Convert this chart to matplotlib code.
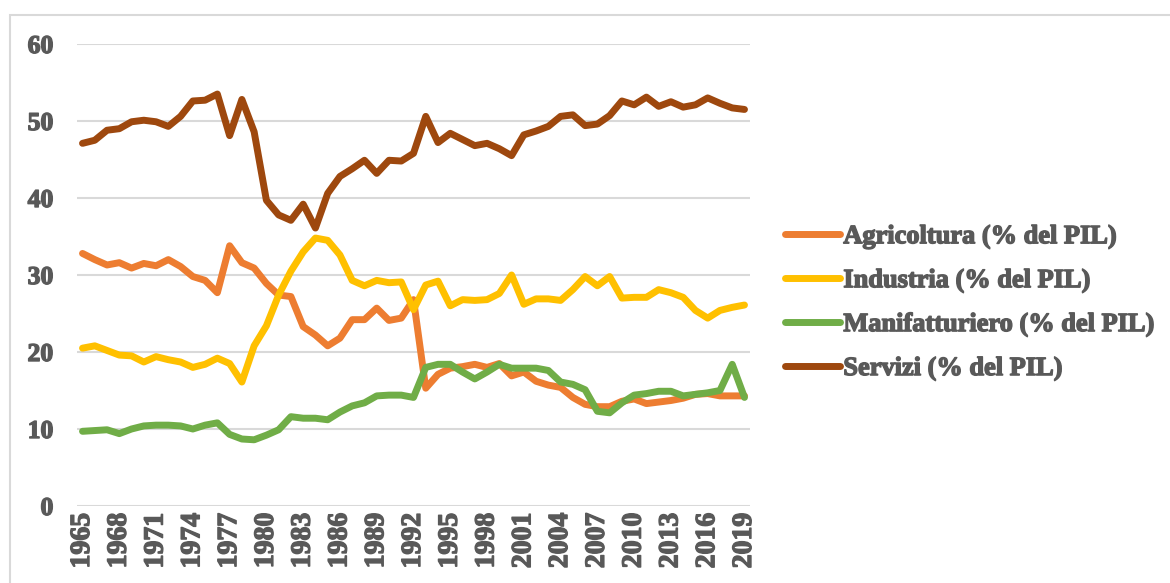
import matplotlib
matplotlib.use("Agg")
import matplotlib.pyplot as plt
from matplotlib.patches import Rectangle
from matplotlib import font_manager as fm
import matplotlib.patheffects as pe

years = list(range(1965, 2020))

agricoltura = [32.8, 32.0, 31.3, 31.6, 30.9, 31.5, 31.2, 32.0, 31.1, 29.8,
               29.3, 27.7, 33.8, 31.6, 30.9, 28.9, 27.4, 27.2, 23.3, 22.2,
               20.8, 21.8, 24.2, 24.2, 25.7, 24.1, 24.4, 26.8, 15.3, 17.1,
               17.9, 18.1, 18.4, 18.0, 18.5, 16.9, 17.4, 16.2, 15.7, 15.4,
               14.1, 13.2, 12.9, 12.9, 13.6, 13.9, 13.3, 13.5, 13.7, 14.0,
               14.5, 14.6, 14.3, 14.3, 14.3]

industria = [20.5, 20.8, 20.2, 19.6, 19.5, 18.7, 19.4, 19.0, 18.7, 18.0,
             18.4, 19.2, 18.5, 16.1, 20.8, 23.4, 27.4, 30.5, 33.0, 34.8,
             34.5, 32.6, 29.3, 28.6, 29.3, 29.0, 29.1, 25.5, 28.7, 29.2,
             26.0, 26.8, 26.7, 26.8, 27.6, 30.0, 26.2, 26.9, 26.9, 26.7,
             28.1, 29.8, 28.6, 29.8, 27.0, 27.1, 27.1, 28.1, 27.7, 27.1,
             25.4, 24.4, 25.4, 25.8, 26.1]

manifatturiero = [9.7, 9.8, 9.9, 9.4, 10.0, 10.4, 10.5, 10.5, 10.4, 10.0,
                  10.5, 10.8, 9.3, 8.7, 8.6, 9.2, 9.9, 11.6, 11.4, 11.4,
                  11.2, 12.2, 13.0, 13.4, 14.3, 14.4, 14.4, 14.1, 18.0, 18.4,
                  18.4, 17.4, 16.5, 17.4, 18.4, 17.9, 17.9, 17.9, 17.6, 16.1,
                  15.8, 15.1, 12.3, 12.1, 13.4, 14.4, 14.6, 14.9, 14.9, 14.3,
                  14.5, 14.7, 15.0, 18.4, 14.1]

servizi = [47.1, 47.5, 48.8, 49.0, 49.9, 50.1, 49.9, 49.3, 50.6, 52.6,
           52.7, 53.5, 48.1, 52.8, 48.6, 39.7, 37.8, 37.1, 39.2, 36.1,
           40.6, 42.8, 43.8, 44.9, 43.2, 44.9, 44.8, 45.8, 50.6, 47.2,
           48.4, 47.6, 46.8, 47.1, 46.4, 45.5, 48.2, 48.7, 49.3, 50.6,
           50.8, 49.4, 49.6, 50.7, 52.6, 52.1, 53.1, 51.9, 52.5, 51.8,
           52.1, 53.0, 52.3, 51.7, 51.5]

series_names = ["Agricoltura (% del PIL)", "Industria (% del PIL)",
                "Manifatturiero (% del PIL)", "Servizi (% del PIL)"]
series_values = [agricoltura, industria, manifatturiero, servizi]
series_colors = ["#ED7D31", "#FFC000", "#70AD47", "#9E480E"]

y_ticks = [0, 10, 20, 30, 40, 50, 60]
x_tick_years = list(range(1965, 2020, 3))

TEXT = "#595959"
FONT = "Liberation Serif"
BOLD = [pe.withStroke(linewidth=1.0, foreground=TEXT)]


def fp(size):
    return fm.FontProperties(family=FONT, weight="bold", size=size)


fig = plt.figure(figsize=(11.7, 5.83), dpi=100)
fig.patch.set_facecolor("white")

# outer chart border
fig.add_artist(Rectangle((10 / 1170, -0.05), 1.2, 1 - 15 / 583 + 0.05,
                         transform=fig.transFigure, fill=False,
                         edgecolor="#D9D9D9", linewidth=1.5))

ax = fig.add_axes([77 / 1170, 1 - 506 / 583, (750 - 77) / 1170, (506 - 44) / 583])

idx = list(range(len(years)))
for name, vals, col in zip(series_names, series_values, series_colors):
    ax.plot(idx, vals, color=col, linewidth=5, label=name,
            solid_joinstyle="round", solid_capstyle="round", zorder=3)

ax.set_ylim(0, 60)
ax.set_xlim(-0.45, len(years) - 0.55)
ax.set_yticks(y_ticks)
ax.set_yticklabels([str(v) for v in y_ticks], fontproperties=fp(18.5), color=TEXT)
xt = [years.index(y) for y in x_tick_years]
ax.set_xticks(xt)
ax.set_xticklabels([str(y) for y in x_tick_years], rotation=90,
                   fontproperties=fp(20), color=TEXT)
ax.tick_params(axis="both", length=0)
ax.tick_params(axis="y", pad=17)
ax.tick_params(axis="x", pad=5)
ax.grid(axis="y", color="#D9D9D9", linewidth=1.5, zorder=0)
for s in ax.spines.values():
    s.set_visible(False)
for t in ax.get_xticklabels() + ax.get_yticklabels():
    t.set_path_effects(BOLD)

leg = fig.legend(loc="upper left", bbox_to_anchor=(761 / 1170, 1 - 201 / 583),
                 frameon=False, handlelength=2.1, handletextpad=0.12,
                 labelspacing=0.76, prop=fp(19))
for t in leg.get_texts():
    t.set_color(TEXT)
    t.set_path_effects(BOLD)
for h in leg.get_lines():
    h.set_linewidth(5)
    h.set_solid_capstyle("round")

fig.savefig("out.png", dpi=100, facecolor="white")
